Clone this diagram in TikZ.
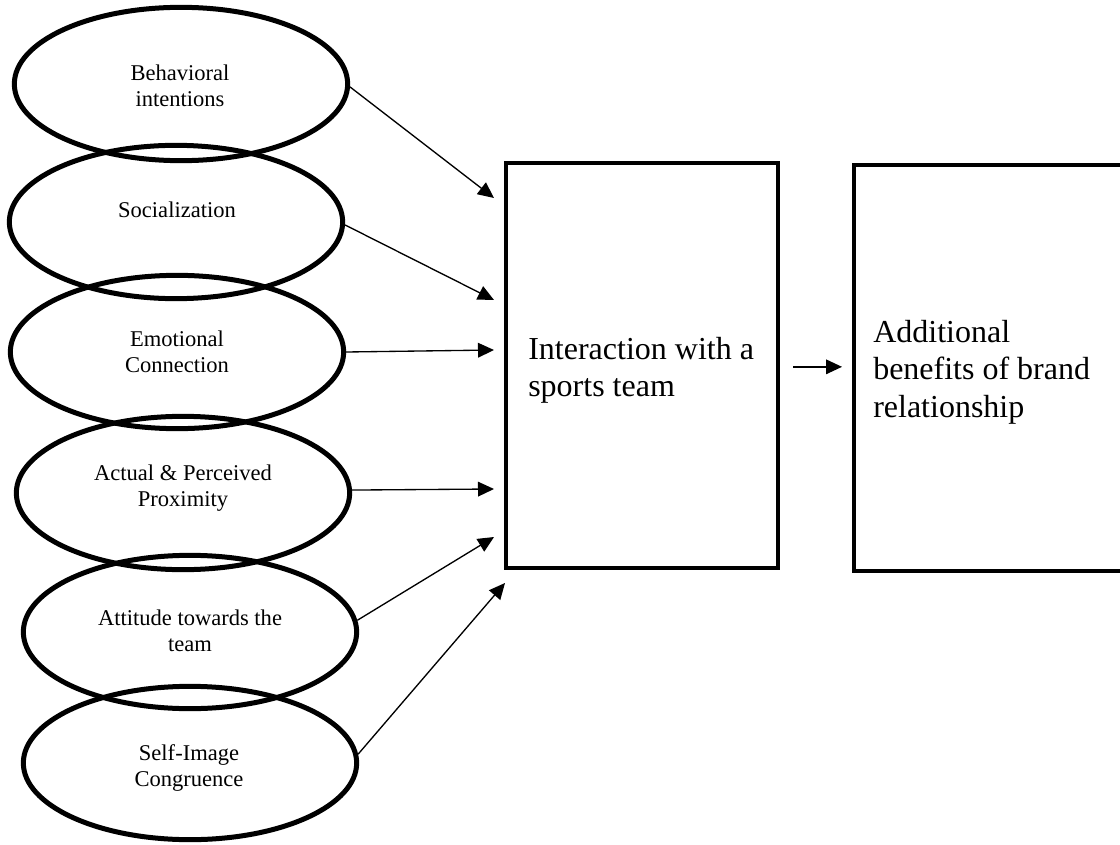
\documentclass[tikz,border=0pt]{standalone}
\usepackage{fontspec}
\setmainfont{Liberation Serif}
\usetikzlibrary{shapes.geometric,arrows.meta}
\begin{document}
\begin{tikzpicture}[x=0.75pt,y=-0.75pt,
  oval/.style={ellipse, draw, line width=3.75pt, minimum width=250pt, minimum height=115pt, inner sep=0pt},
  lbl/.style={align=center, font=\fontsize{16.9}{19.5}\selectfont, inner sep=0pt},
  bigbox/.style={rectangle, draw, line width=3pt, inner sep=0pt},
  bigtxt/.style={align=left, font=\fontsize{24}{28}\selectfont, inner sep=0pt},
  link/.style={line width=1pt, -{Triangle[length=12pt,width=11pt]}}]
\useasboundingbox (0,0) rectangle (1120,845);

% ovals
\node[oval] (e1) at (181,84) {};
\node[oval] (e2) at (176,222) {};
\node[oval] (e3) at (177,352) {};
\node[oval] (e4) at (183,493) {};
\node[oval] (e5) at (190,632) {};
\node[oval] (e6) at (190,763) {};

\node[lbl] (t1) at (180,86) {Behavioral\\intentions};
\node[lbl] (t2) at (177,210) {Socialization};
\node[lbl] (t3) at (177,352) {Emotional\\Connection};
\node[lbl] (t4) at (183,488) {Actual \& Perceived\\Proximity};
\node[lbl] (t5) at (190,631) {Attitude towards the\\team};
\node[lbl] (t6) at (189,768) {Self-Image\\Congruence};

% boxes
\node[bigbox, minimum width=204pt, minimum height=303.75pt] (b1) at (642,365.5) {};
\node[bigbox, minimum width=202.5pt, minimum height=304.5pt] (b2) at (989,368) {};

\node[bigtxt, anchor=west] (s1) at (528,370) {Interaction with a\\sports team};
\node[bigtxt, anchor=west] (s2) at (873,372) {Additional\\benefits of brand\\relationship};

% arrow tips
\coordinate (p1) at (494,198);
\coordinate (p2) at (494,300);
\coordinate (p3) at (494,350);
\coordinate (p4) at (494,489);
\coordinate (p5) at (494,537);
\coordinate (p6) at (505,583);

\draw[link] (e1.-1.4) -- (p1);
\draw[link] (e2.-1.3) -- (p2);
\draw[link] (e3.0.7) -- (p3);
\draw[link] (e4.1.3) -- (p4);
\draw[link] (e5.4.1) -- (p5);
\draw[link] (e6.3.4) -- (p6);

\draw[link] ([xshift=9.75pt,yshift=-1pt]b1.east) -- ([xshift=-7.5pt,yshift=-1pt]b2.west |- b1.east);
\end{tikzpicture}
\end{document}
